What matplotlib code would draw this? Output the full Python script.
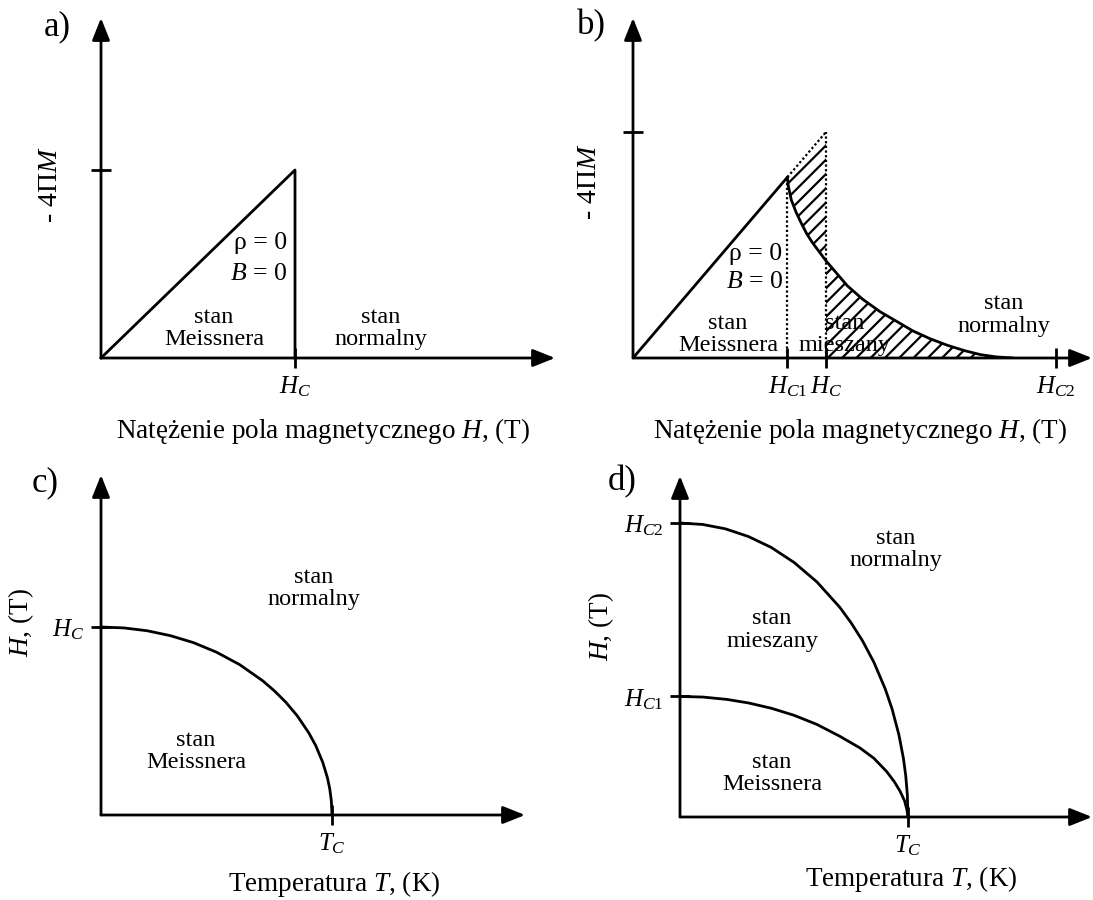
import matplotlib
matplotlib.use("Agg")
import matplotlib.pyplot as plt
from matplotlib.backend_bases import GraphicsContextBase

plt.rcParams['font.family'] = ['Liberation Serif', 'DejaVu Serif']
plt.rcParams['mathtext.fontset'] = 'custom'
plt.rcParams['mathtext.rm'] = 'Liberation Serif'
plt.rcParams['mathtext.it'] = 'Liberation Serif:italic'
plt.rcParams['hatch.linewidth'] = 1.6

# hatching density tuned to the reference
_orig_hatch_path = GraphicsContextBase.get_hatch_path
GraphicsContextBase.get_hatch_path = lambda self, density=7.5: _orig_hatch_path(self, density)

# ---------------- data (schematic units) ----------------
# a) Meissner line and drop at H_C
a_H = [0.0, 1.0, 1.0]
a_M = [0.0, 1.0, 0.0]
a_xticks = [1.0]
a_xlabels = [r'$H_C$']
a_yticks = [1.0]

# b) type II superconductor magnetisation
b_lin_H = [0.0, 0.80]
b_lin_M = [0.0, 0.80]
b_ext_H = [0.80, 1.0]          # dotted extension of Meissner line
b_ext_M = [0.80, 1.0]
b_curve_H = [0.80, 0.805, 0.82, 0.845, 0.87, 0.90, 0.93, 0.965, 1.00,
             1.05, 1.11, 1.19, 1.28, 1.37, 1.45, 1.54, 1.63, 1.72, 1.80, 1.88, 1.97]
b_curve_M = [0.80, 0.76, 0.70, 0.645, 0.60, 0.55, 0.51, 0.47, 0.43,
             0.38, 0.32, 0.26, 0.205, 0.16, 0.12, 0.085, 0.056, 0.032, 0.015, 0.005, 0.0]
b_upper_M = [0.80, 0.805, 0.82, 0.845, 0.87, 0.90, 0.93, 0.965, 1.00]  # dotted line, H_C1..H_C
b_Hc1, b_Hc, b_Hc2 = 0.80, 1.0, 2.19
b_xlabels = [r'$H_{\mathit{C1}}$', r'$H_C$', r'$H_{\mathit{C2}}$']
b_yticks = [1.0]

# c) type I phase diagram
c_T = [0.0, 0.1, 0.2, 0.3, 0.4, 0.5, 0.6, 0.7, 0.75, 0.8, 0.85, 0.9, 0.93, 0.96, 0.98, 0.99, 0.997, 1.0]
c_H = [1.0, 0.995, 0.98, 0.954, 0.917, 0.866, 0.80, 0.714, 0.661, 0.60, 0.527, 0.436, 0.368, 0.28,
       0.199, 0.141, 0.077, 0.0]

# d) type II phase diagram
d_T2 = [0.0, 0.1, 0.2, 0.3, 0.4, 0.5, 0.6, 0.7, 0.75, 0.8, 0.85, 0.9, 0.93, 0.96, 0.98, 0.99, 0.997, 1.0]
d_H2 = [1.0, 0.995, 0.98, 0.954, 0.917, 0.866, 0.80, 0.714, 0.661, 0.60, 0.527, 0.436, 0.368, 0.28,
        0.199, 0.141, 0.077, 0.0]
d_T1 = [0.0, 0.1, 0.205, 0.3, 0.4, 0.5, 0.6, 0.7, 0.789, 0.85, 0.906, 0.94, 0.965, 0.985, 0.995, 1.0]
d_H1 = [0.41, 0.408, 0.40, 0.388, 0.37, 0.346, 0.315, 0.275, 0.235, 0.20, 0.155, 0.12, 0.088,
        0.055, 0.025, 0.0]
d_yticks = [0.41, 1.0]
d_ylabels = [r'$H_{\mathit{C1}}$', r'$H_{\mathit{C2}}$']

xlab_H = 'Natężenie pola magnetycznego $H$, (T)'
xlab_T = 'Temperatura $T$, (K)'
ylab_M = '- 4Π$M$'
ylab_H = '$H$, (T)'

W, Hf = 1093, 900
fig = plt.figure(figsize=(W / 100, Hf / 100), dpi=100)

LW = 2.0


def make_ax(left, bottom, right, top, xu, yu):
    ax = fig.add_axes([left / W, 1 - bottom / Hf, (right - left) / W, (bottom - top) / Hf])
    ax.set_xlim(0, (right - left) / xu)
    ax.set_ylim(0, (bottom - top) / yu)
    for s in ax.spines.values():
        s.set_visible(False)
    ax.patch.set_alpha(0)
    ap = dict(arrowstyle='-|>,head_length=0.75,head_width=0.3', lw=LW, color='k',
              shrinkA=0, shrinkB=0, mutation_scale=18)
    ax.annotate('', xy=(1, 0), xytext=(0, 0), xycoords='axes fraction',
                arrowprops=ap, annotation_clip=False)
    ax.annotate('', xy=(0, 1), xytext=(0, 0), xycoords='axes fraction',
                arrowprops=ap, annotation_clip=False)
    ax.tick_params(direction='inout', length=14, width=LW, labelsize=18, pad=5)
    ax.set_xticks([])
    ax.set_yticks([])
    return ax


def region(ax, x, y, s, fs=17.5, z=3):
    ax.text(x, y, s, ha='center', va='center', fontsize=fs, linespacing=1.1, zorder=z)


def curve(ax, x, y, **kw):
    ax.plot(x, y, color='k', lw=LW, solid_joinstyle='round', solid_capstyle='round', **kw)


# ---------- a ----------
axa = make_ax(101, 358, 555, 18, 194, 188)
axa.plot(a_H, a_M, color='k', lw=LW, clip_on=False)
axa.set_xticks(a_xticks)
axa.set_xticklabels(a_xlabels)
axa.set_yticks(a_yticks)
axa.set_yticklabels([])
region(axa, 0.582, 0.157, 'stan\nMeissnera')
region(axa, 1.443, 0.157, 'stan\nnormalny')
axa.text(0.96, 0.612, 'ρ = 0', ha='right', va='center', fontsize=18.5)
axa.text(0.96, 0.447, '$B$ = 0', ha='right', va='center', fontsize=18.5)

# ---------- b ----------
axb = make_ax(633, 358, 1092, 18, 193, 226)
region(axb, 1.098, 0.104, 'stan\nmieszany', z=1)
n1 = len(b_upper_M)
axb.fill_between(b_curve_H[:n1], b_curve_M[:n1], b_upper_M, facecolor='none',
                 edgecolor='k', hatch='//', linewidth=0, zorder=2)
axb.fill_between(b_curve_H[n1 - 1:], [0] * len(b_curve_H[n1 - 1:]), b_curve_M[n1 - 1:],
                 facecolor='none', edgecolor='k', hatch='//', linewidth=0, zorder=2)
axb.plot(b_lin_H, b_lin_M, color='k', lw=LW)
dot = (0, (1, 1.1))
axb.plot(b_ext_H, b_ext_M, color='k', lw=1.6, ls=dot)
axb.plot([b_Hc1, b_Hc1], [0, b_curve_M[0]], color='k', lw=1.6, ls=dot)
axb.plot([b_Hc, b_Hc], [0, b_upper_M[-1]], color='k', lw=1.6, ls=dot)
curve(axb, b_curve_H, b_curve_M, zorder=4)
axb.set_xticks([b_Hc1, b_Hc, b_Hc2])
axb.set_xticklabels(b_xlabels)
axb.set_yticks(b_yticks)
axb.set_yticklabels([])
region(axb, 0.492, 0.104, 'stan\nMeissnera')
region(axb, 1.922, 0.19, 'stan\nnormalny')
axb.text(0.775, 0.46, 'ρ = 0', ha='right', va='center', fontsize=18.5)
axb.text(0.775, 0.336, '$B$ = 0', ha='right', va='center', fontsize=18.5)

# ---------- c ----------
axc = make_ax(101, 815, 525, 475, 231, 188)
curve(axc, c_T, c_H)
axc.set_xticks([1.0])
axc.set_xticklabels([r'$T_C$'])
axc.set_yticks([1.0])
axc.set_yticklabels([r'$H_C$'])
region(axc, 0.922, 1.205, 'stan\nnormalny')
region(axc, 0.411, 0.338, 'stan\nMeissnera')

# ---------- d ----------
axd = make_ax(680, 817, 1092, 476, 228, 294)
curve(axd, d_T2, d_H2)
curve(axd, d_T1, d_H1)
axd.set_xticks([1.0])
axd.set_xticklabels([r'$T_C$'])
axd.set_yticks(d_yticks)
axd.set_yticklabels(d_ylabels)
region(axd, 0.947, 0.91, 'stan\nnormalny')
region(axd, 0.404, 0.636, 'stan\nmieszany')
region(axd, 0.404, 0.148, 'stan\nMeissnera')


# ---------- figure-level texts (pixel positions) ----------
def ftext(x, y, s, **kw):
    fig.text(x / W, 1 - y / Hf, s, ha='center', va='center', **kw)


ftext(323, 431, xlab_H, fontsize=19.5)
ftext(860, 431, xlab_H, fontsize=19.5)
ftext(334, 884, xlab_T, fontsize=19.5)
ftext(911, 879, xlab_T, fontsize=19.5)
ftext(50, 185, ylab_M, fontsize=20, rotation=90)
ftext(589, 182, ylab_M, fontsize=20, rotation=90)
ftext(21, 623, ylab_H, fontsize=19.5, rotation=90)
ftext(601, 627, ylab_H, fontsize=19.5, rotation=90)
ftext(57, 27, 'a)', fontsize=25)
ftext(591, 26, 'b)', fontsize=25)
ftext(45, 483, 'c)', fontsize=25)
ftext(622, 482, 'd)', fontsize=25)

fig.savefig('out.png', dpi=100, facecolor='white')
